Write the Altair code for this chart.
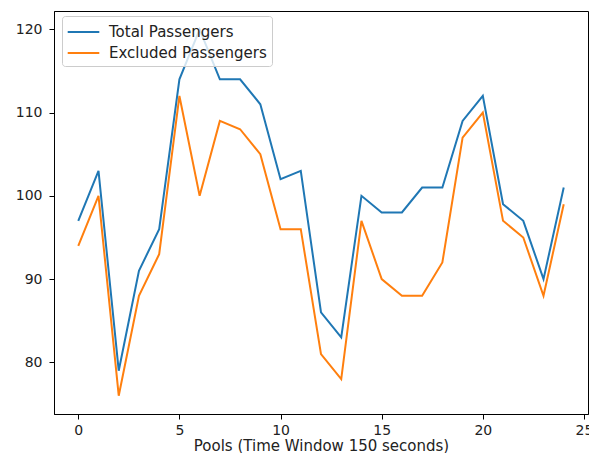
import altair as alt
import pandas as pd

pools = list(range(25))
total = [97, 103, 79, 91, 96, 114, 120, 114, 114, 111, 102, 103, 86, 83, 100, 98, 98, 101, 101, 109, 112, 99, 97, 90, 101]
excluded = [94, 100, 76, 88, 93, 112, 100, 109, 108, 105, 96, 96, 81, 78, 97, 90, 88, 88, 92, 107, 110, 97, 95, 88, 99]
series = ["Total Passengers", "Excluded Passengers"]
x_ticks = [0, 5, 10, 15, 20, 25]
y_ticks = [80, 90, 100, 110, 120]

rows = []
for name, vals in zip(series, [total, excluded]):
    for p, v in zip(pools, vals):
        rows.append({"pool": p, "value": v, "series": name})
df = pd.DataFrame(rows)

font = "DejaVu Sans"
txt = "#222222"

chart = alt.Chart(df).mark_line(strokeWidth=2, clip=True).encode(
    x=alt.X("pool:Q", title="Pools (Time Window 150 seconds)",
            scale=alt.Scale(domain=[-1.2, 25.2], nice=False, zero=False),
            axis=alt.Axis(values=x_ticks, grid=False, labelPadding=4,
                          titleY=36, titleBaseline="alphabetic", titleFontSize=15)),
    y=alt.Y("value:Q", title=None,
            scale=alt.Scale(domain=[73.8, 122.2], nice=False, zero=False),
            axis=alt.Axis(values=y_ticks, grid=False, labelPadding=7)),
    color=alt.Color("series:N", title=None,
                    scale=alt.Scale(domain=series, range=["#1f77b4", "#ff7f0e"]),
                    sort=series,
                    legend=alt.Legend(orient="none", legendX=8, legendY=5,
                                      symbolType="M-1.03,0L2.13,0", symbolSize=400,
                                      symbolStrokeWidth=2, labelFontSize=15,
                                      labelFont=font, labelColor=txt,
                                      padding=5, rowPadding=2, labelOffset=20,
                                      fillColor="rgba(255,255,255,0.8)",
                                      strokeColor="#cccccc", cornerRadius=3)),
    detail="series:N",
).properties(
    width=534, height=403,
    autosize=alt.AutoSizeParams(type="none"),
    padding={"left": 46, "top": 3, "right": 1, "bottom": 39},
).configure_view(
    stroke="#000", strokeWidth=1
).configure_axis(
    domainColor="#000", domainWidth=1, tickColor="#000", tickSize=5, tickWidth=1,
    labelFont=font, labelFontSize=14, labelColor=txt,
    titleFont=font, titleFontSize=15, titleColor=txt, titleFontWeight="normal",
)

chart.save("out.html", embed_options={"renderer": "svg", "actions": False})
